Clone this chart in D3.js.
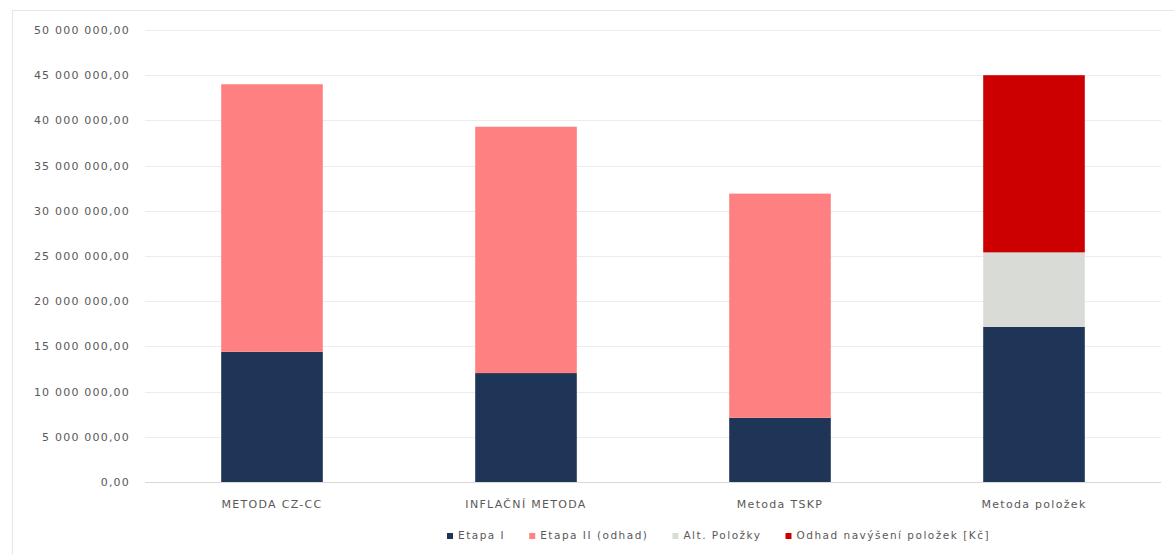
<!DOCTYPE html>
<html>
<head>
<meta charset="utf-8">
<script src="https://cdn.jsdelivr.net/npm/d3@7"></script>
<style>
  body { margin: 0; background: #fff; }
  text { font-family: "DejaVu Sans", sans-serif; fill: #595959; }
</style>
</head>
<body>
<script>

// data
var categories = ["METODA CZ-CC", "INFLAČNÍ METODA", "Metoda TSKP", "Metoda položek"];
var seriesNames = ["Etapa I", "Etapa II (odhad)", "Alt. Položky", "Odhad navýšení položek [Kč]"];
var etapa1 = [14400000, 12050000, 7100000, 17150000];
var etapa2 = [29600000, 27250000, 24800000, 0];
var altPolozky = [0, 0, 0, 8250000];
var odhadNavyseni = [0, 0, 0, 19600000];
var yTicks = [0, 5000000, 10000000, 15000000, 20000000, 25000000, 30000000, 35000000, 40000000, 45000000, 50000000];
var colors = ["#1f3557", "#ff8080", "#d9dcd6", "#cc0000"];

var width = 1174, height = 554;
var margin = {top: 30, right: 13, bottom: 72, left: 145};

var svg = d3.select("body").append("svg")
  .attr("width", width)
  .attr("height", height);

// faint chart border like excel
svg.append("rect")
  .attr("x", 12.5).attr("y", 10.5)
  .attr("width", width).attr("height", height)
  .attr("fill", "none")
  .attr("stroke", "#e6e6e6");

var x = d3.scaleBand()
  .domain(categories)
  .range([margin.left, width - margin.right])
  .paddingInner(0.6)
  .paddingOuter(0.3);

var y = d3.scaleLinear()
  .domain([0, 50000000])
  .range([height - margin.bottom, margin.top]);

var cz = d3.formatLocale({decimal: ",", thousands: " ", grouping: [3], currency: ["", " Kč"]});
var fmt = cz.format(",.2f");

// gridlines
svg.append("g")
  .selectAll("line")
  .data(yTicks)
  .enter()
  .append("line")
  .attr("x1", margin.left)
  .attr("x2", width - margin.right)
  .attr("y1", function(d) { return Math.round(y(d)) + 0.5; })
  .attr("y2", function(d) { return Math.round(y(d)) + 0.5; })
  .attr("stroke", function(d) { return d == 0 ? "#d9d9d9" : "#ececec"; });

// y axis labels
var yAxis = d3.axisLeft(y).tickValues(yTicks).tickFormat(fmt).tickSize(0).tickPadding(15);
svg.append("g")
  .attr("transform", "translate(" + margin.left + ",0)")
  .call(yAxis)
  .call(function(g) { g.select(".domain").remove(); })
  .selectAll("text")
  .style("font-size", "11px")
  .style("font-family", "'DejaVu Sans', sans-serif")
  .style("letter-spacing", "1.2px")
  .attr("fill", "#595959");

// stack data
var rows = categories.map(function(c, i) {
  return {cat: c, s0: etapa1[i], s1: etapa2[i], s2: altPolozky[i], s3: odhadNavyseni[i]};
});
var stack = d3.stack().keys(["s0", "s1", "s2", "s3"]);
var layers = stack(rows);

svg.append("g")
  .selectAll("g")
  .data(layers)
  .enter()
  .append("g")
  .attr("fill", function(d, i) { return colors[i]; })
  .selectAll("rect")
  .data(function(d) { return d; })
  .enter()
  .append("rect")
  .attr("x", function(d) { return x(d.data.cat); })
  .attr("width", x.bandwidth())
  .attr("y", function(d) { return y(d[1]); })
  .attr("height", function(d) { return y(d[0]) - y(d[1]); });

// x axis labels
var xAxis = d3.axisBottom(x).tickSize(0).tickPadding(18);
svg.append("g")
  .attr("transform", "translate(0," + (height - margin.bottom) + ")")
  .call(xAxis)
  .call(function(g) { g.select(".domain").remove(); })
  .selectAll("text")
  .style("font-size", "11px")
  .style("font-family", "'DejaVu Sans', sans-serif")
  .style("letter-spacing", "1.3px")
  .attr("fill", "#595959");

// legend
var legend = svg.append("g").attr("transform", "translate(0,536)");
var lx = 447;
seriesNames.forEach(function(name, i) {
  var g = legend.append("g").attr("transform", "translate(" + lx + ",0)");
  g.append("rect").attr("x", 0).attr("y", -3).attr("width", 6).attr("height", 6).attr("fill", colors[i]);
  var t = g.append("text").attr("x", 11).attr("y", 0)
    .attr("dominant-baseline", "middle")
    .style("font-size", "10.5px")
    .style("letter-spacing", "1.5px")
    .text(name);
  lx += 11 + t.node().getComputedTextLength() + 24;
});

</script>
</body>
</html>
